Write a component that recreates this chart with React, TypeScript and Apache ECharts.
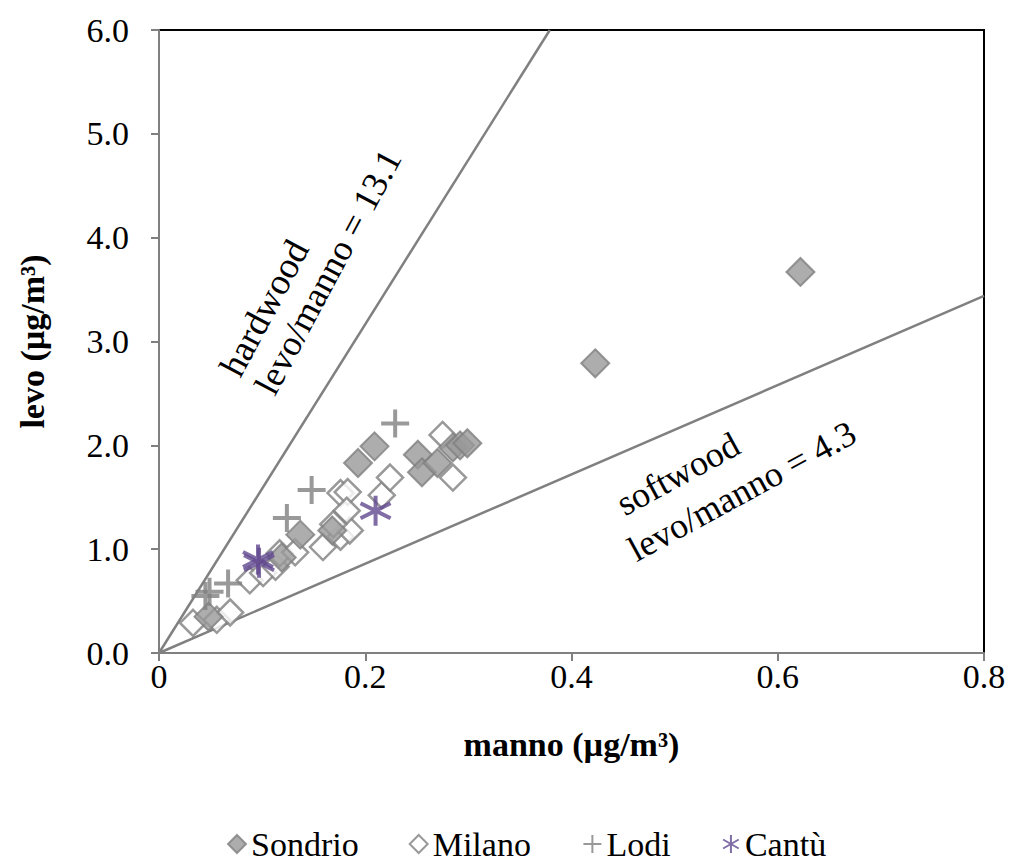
import React, { useEffect, useRef } from "react";
import * as echarts from "echarts";

const sondrio: [number, number][] = [
  [0.622, 3.67], [0.423, 2.79], [0.209, 1.99], [0.193, 1.83],
  [0.251, 1.91], [0.255, 1.74], [0.27, 1.83], [0.285, 1.98],
  [0.292, 2.0], [0.299, 2.02], [0.137, 1.14], [0.168, 1.18],
  [0.048, 0.35], [0.119, 0.92],
];
const milano: [number, number][] = [
  [0.033, 0.29], [0.056, 0.32], [0.069, 0.39], [0.088, 0.7],
  [0.101, 0.77], [0.113, 0.83], [0.117, 0.96], [0.132, 0.97],
  [0.159, 1.02], [0.176, 1.12], [0.185, 1.18], [0.176, 1.54],
  [0.183, 1.55], [0.216, 1.52], [0.224, 1.69], [0.275, 2.1],
  [0.285, 1.69], [0.182, 1.37], [0.169, 1.24],
];
const lodi: [number, number][] = [
  [0.229, 2.21], [0.148, 1.57], [0.124, 1.3], [0.049, 0.59],
  [0.045, 0.55], [0.067, 0.67],
];
const cantu: [number, number][] = [
  [0.096, 0.9], [0.097, 0.87], [0.21, 1.37],
];
const hardwoodLine: [number, number][] = [[0, 0], [0.379, 6.0]];
const softwoodLine: [number, number][] = [[0, 0], [0.8, 3.44]];

const seriesNames = ["Sondrio", "Milano", "Lodi", "Cantù"];
const FONT = "'Liberation Serif', 'Times New Roman', serif";
const GRAY = "#808080";
const PURPLE = "#62488F";

const DIAMOND = "path://M0,-1L1,0L0,1L-1,0Z";
const PLUS = "path://M0,-1L0,1M-1,0L1,0";
const STAR = "path://M0,-1L0,1M-0.87,-0.5L0.87,0.5M-0.87,0.5L0.87,-0.5";

export default function App() {
  const ref = useRef<HTMLDivElement>(null);
  useEffect(() => {
    if (!ref.current) return;
    const chart = echarts.init(ref.current, null, { renderer: "svg" });
    chart.setOption({
      animation: false,
      backgroundColor: "#fff",
      grid: {
        left: 159, top: 30, right: 25, bottom: 212,
        show: true, borderColor: "#000", borderWidth: 2,
      },
      xAxis: {
        type: "value", min: 0, max: 0.8, interval: 0.2,
        name: "manno (µg/m³)", nameLocation: "middle", nameGap: 74,
        nameTextStyle: { fontFamily: FONT, fontSize: 34, fontWeight: "bold", color: "#000" },
        axisLine: { show: true, lineStyle: { color: GRAY, width: 2 } },
        axisTick: { show: true, length: 8, lineStyle: { color: GRAY, width: 2 } },
        splitLine: { show: false },
        axisLabel: {
          fontFamily: FONT, fontSize: 34, color: "#000", margin: 6,
          formatter: (v: number) => (v === 0 ? "0" : v.toFixed(1)),
        },
      },
      yAxis: {
        type: "value", min: 0, max: 6, interval: 1,
        name: "levo (µg/m³)", nameLocation: "middle", nameGap: 110,
        nameTextStyle: { fontFamily: FONT, fontSize: 34, fontWeight: "bold", color: "#000" },
        axisLine: { show: true, lineStyle: { color: GRAY, width: 2 } },
        axisTick: { show: true, length: 8, lineStyle: { color: GRAY, width: 2 } },
        splitLine: { show: false },
        axisLabel: {
          fontFamily: FONT, fontSize: 34, color: "#000", margin: 30,
          formatter: (v: number) => v.toFixed(1),
        },
      },
      legend: {
        left: 222, top: 822, itemGap: 50, itemWidth: 18, itemHeight: 18,
        textStyle: { fontFamily: FONT, fontSize: 34, color: "#000" },
        data: seriesNames,
      },
      graphic: [
        { type: "text", x: 264, y: 308, rotation: 1.08,
          style: { text: "hardwood", font: `37px ${FONT}`, fill: "#000", align: "center", verticalAlign: "middle" } },
        { type: "text", x: 328, y: 272, rotation: 1.08,
          style: { text: "levo/manno = 13.1", font: `36px ${FONT}`, fill: "#000", align: "center", verticalAlign: "middle" } },
        { type: "text", x: 678, y: 474, rotation: 0.5,
          style: { text: "softwood", font: `36px ${FONT}`, fill: "#000", align: "center", verticalAlign: "middle" } },
        { type: "text", x: 742, y: 491, rotation: 0.5,
          style: { text: "levo/manno = 4.3", font: `36px ${FONT}`, fill: "#000", align: "center", verticalAlign: "middle" } },
      ],
      series: [
        { type: "line", data: hardwoodLine, symbol: "none", silent: true,
          lineStyle: { color: GRAY, width: 2.5 }, z: 1 },
        { type: "line", data: softwoodLine, symbol: "none", silent: true,
          lineStyle: { color: GRAY, width: 2.5 }, z: 1 },
        { name: "Sondrio", type: "scatter", data: sondrio, symbol: DIAMOND, symbolSize: 28,
          itemStyle: { color: "#999999", borderColor: GRAY, borderWidth: 2 }, z: 3 },
        { name: "Milano", type: "scatter", data: milano, symbol: DIAMOND, symbolSize: 26,
          itemStyle: { color: "#ffffff", borderColor: GRAY, borderWidth: 2.5 }, z: 2 },
        { name: "Lodi", type: "scatter", data: lodi, symbol: PLUS, symbolSize: 28,
          itemStyle: { color: "none", borderColor: GRAY, borderWidth: 4 }, z: 4 },
        { name: "Cantù", type: "scatter", data: cantu, symbol: STAR, symbolSize: 30,
          itemStyle: { color: "none", borderColor: PURPLE, borderWidth: 4 }, z: 5 },
      ],
    });
    return () => chart.dispose();
  }, []);
  return (
    <div
      ref={ref}
      style={{ position: "fixed", left: 0, top: 0, width: 1009, height: 865 }}
    />
  );
}
